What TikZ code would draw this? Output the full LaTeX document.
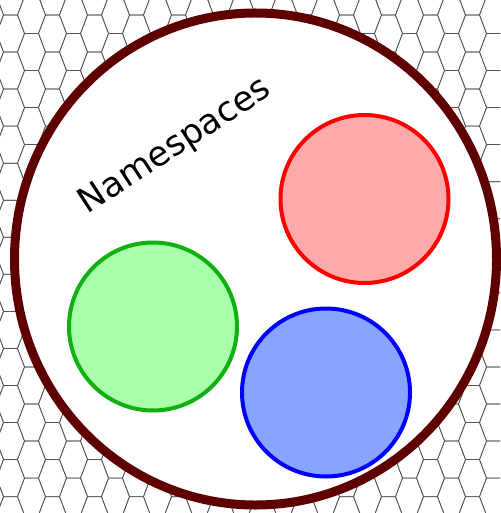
\documentclass[tikz,border=0pt]{standalone}
\usepackage{fontspec}
\setmainfont{DejaVu Sans}
\usetikzlibrary{shapes.geometric}
\definecolor{maroon}{HTML}{5E0000}
\definecolor{hexline}{HTML}{555555}
\definecolor{redfill}{HTML}{FFAAAA}
\definecolor{greenfill}{HTML}{AAFFAA}
\definecolor{greenline}{HTML}{10B010}
\definecolor{bluefill}{HTML}{88A4FF}
\tikzset{
  hexgrid/.style={draw=hexline, line width=0.7pt, line join=round},
  ring/.style={ellipse, draw=maroon, fill=white, line width=9pt, inner sep=0pt},
  ns/.style={circle, line width=4pt, inner sep=0pt, minimum size=168pt},
}
\begin{document}
\begin{tikzpicture}[x=1pt, y=-1pt]
\useasboundingbox (0,0) rectangle (500,513);
\fill[white] (0,0) rectangle (500,513);
\begin{scope}
\clip (0,0) rectangle (500,513);
\foreach \i in {-1,...,24}{
  \foreach \j in {-1,...,14}{
    \pgfmathsetmacro{\xo}{3.5+21*\i}
    \pgfmathsetmacro{\yo}{15+37.05*\j+18.5*mod(\i+2,2)}
    \draw[hexgrid] (\xo,\yo) -- ++(14,0) -- ++(7,18.5) -- ++(-7,18.5) -- ++(-14,0) -- ++(-7,-18.5) -- cycle;
  }
}
\end{scope}
\node[ring, minimum width=482pt, minimum height=492pt] (outer) at (255.5,259) {};
\node[ns, draw=red, fill=redfill] (red) at (364.5,199) {};
\node[ns, draw=greenline, fill=greenfill] (green) at (153,326.5) {};
\node[ns, draw=blue, fill=bluefill] (blue) at (326,392.5) {};
\node[rotate=33, font=\fontsize{34.5}{34.5}\selectfont, inner sep=0pt] (label) at (175.5,146.5) {Namespaces};
\end{tikzpicture}
\end{document}
